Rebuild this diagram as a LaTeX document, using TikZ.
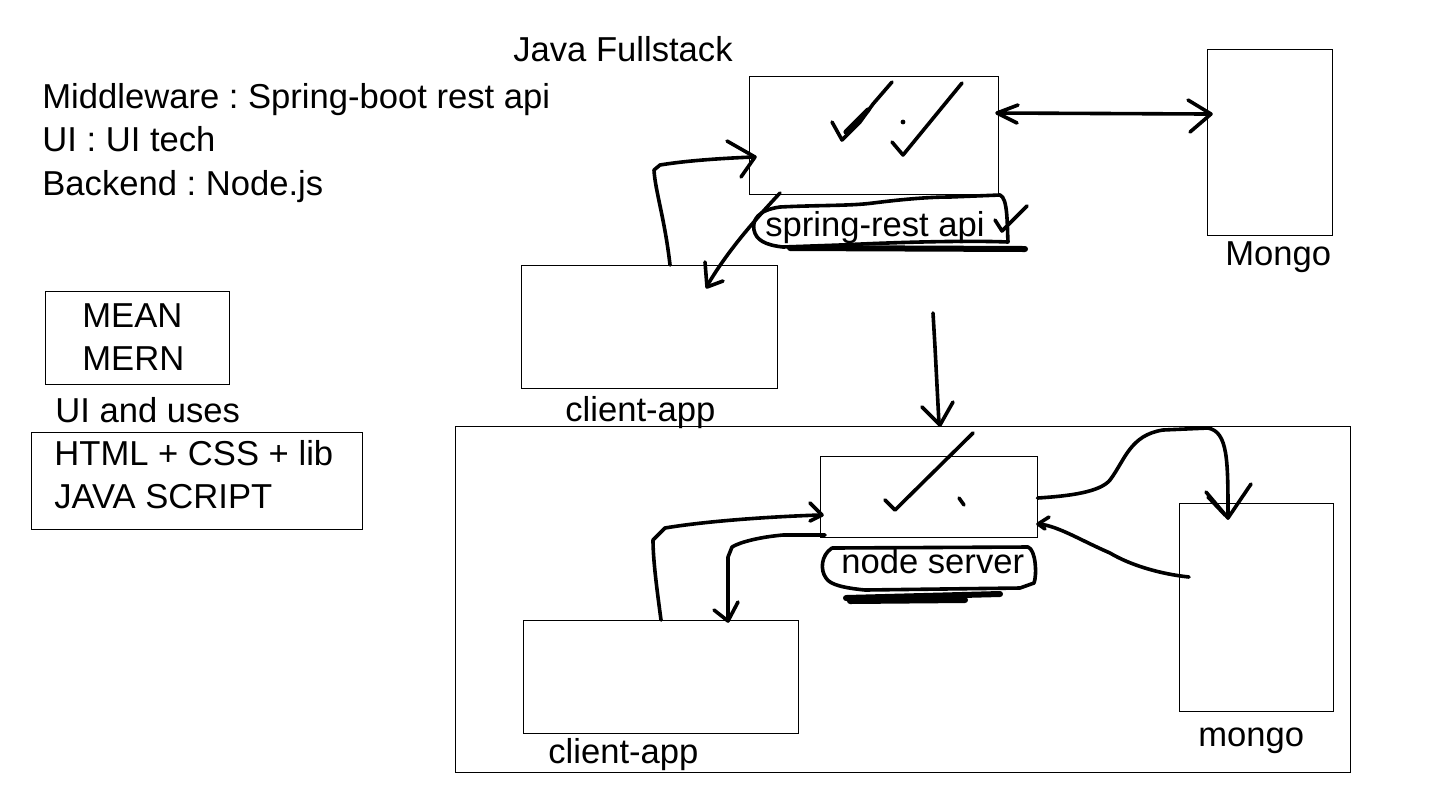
\documentclass[tikz,border=0pt]{standalone}
\usepackage{fontspec}
\setmainfont{Liberation Sans}
\frenchspacing
\begin{document}
\begin{tikzpicture}[x=0.5pt,y=-0.5pt,
  box/.style={draw=black, line width=0.5pt, inner sep=0pt, fill=none},
  lbl/.style={inner sep=0pt, anchor=base west, font=\fontsize{17.3}{20}\selectfont\frenchspacing},
  ink/.style={draw=black, line width=1.8pt, line cap=round, line join=round},
  thickink/.style={draw=black, line width=3pt, line cap=round, line join=round}]
\useasboundingbox[fill=white] (0,0) rectangle (1434,805);

% texts
\node[lbl] (title) at (513,61) {Java Fullstack};
\node[lbl] (mw) at (42,108) {Middleware : Spring-boot rest api};
\node[lbl] (ui) at (42,151) {UI : UI tech};
\node[lbl] (be) at (42,195) {Backend : Node.js};

% left boxes
\node[box, minimum width=92pt, minimum height=46.5pt] (meanbox) at (137,337.5) {};
\node[lbl] (mean) at (82,327) {MEAN};
\node[lbl] (mern) at (82,370) {MERN};
\node[lbl] (uses) at (55,422) {UI and uses};
\node[box, minimum width=165.5pt, minimum height=48.5pt] (htmlbox) at (196.5,480.5) {};
\node[lbl] (html) at (54,465) {HTML + CSS + lib};
\node[lbl] (js) at (54,508) {JAVA SCRIPT};

% top diagram
\node[box, minimum width=124.5pt, minimum height=59pt] (springbox) at (873.5,135) {};
\node[box, minimum width=62.5pt, minimum height=93pt] (mongoA) at (1269.5,142) {};
\node[lbl] (mongoAl) at (1225,265) {Mongo};
\node[box, minimum width=128pt, minimum height=61.5pt] (clientA) at (649,326.5) {};
\node[lbl] (clientAl) at (565,421) {client-app};
\node[lbl] (springl) at (765,236) {spring-rest api};

% bottom diagram
\node[box, minimum width=447.5pt, minimum height=173pt] (outer) at (902.5,599) {};
\node[box, minimum width=108.5pt, minimum height=40.5pt] (nodebox) at (928.5,496.5) {};
\node[lbl] (nodel) at (841,573) {node server};
\node[box, minimum width=137.5pt, minimum height=56.5pt] (clientB) at (660.5,676.5) {};
\node[lbl] (clientBl) at (548,763) {client-app};
\node[box, minimum width=77pt, minimum height=104pt] (mongoB) at (1256,607) {};
\node[lbl] (mongoBl) at (1198,746) {mongo};

% checks in spring box
\draw[ink] (832,122) -- (842,140) -- (860,122) -- (873,104) -- (892,82);
\draw[line width=2.6pt, line cap=round] (846,132) -- (868,110);
\draw[ink] (892,142) -- (903,155) -- (962,83);
\fill (903,122) circle (1.2pt);

% double arrow spring <-> Mongo
\draw[ink] (springbox.east |- 0,113) -- (mongoA.west |- 0,114);
\draw[ink] (1018,105) -- (997,113) -- (1017,123);
\draw[ink] (1188,100) -- (1211,114) -- (1190,132);

% client-app -> spring
\draw[ink] (670,265) .. controls (665,220) and (655,190) .. (654,170) -- (660,165) .. controls (690,160) and (730,158) .. (753,157);
\draw[ink] (727,141) -- (755,157) -- (741,177);

% spring -> client-app
\draw[ink] (780,193) .. controls (750,225) and (725,255) .. (707,286);
\draw[ink] (705,262) -- (707,287) -- (723,281);

% loop round spring-rest api
\draw[ink] (780,207) .. controls (820,205) and (850,206) .. (873,203)
  .. controls (905,199) and (930,197) .. (950,197) -- (1000,195)
  .. controls (1008,198) and (1007,225) .. (1008,242)
  .. controls (960,240) and (880,243) .. (840,245)
  -- (783,247) .. controls (765,245) and (756,240) .. (754,230)
  .. controls (752,220) and (758,210) .. (780,207);
\draw[thickink] (790,248) -- (1025,249);
\draw[ink] (995,220) -- (1002,231) -- (1027,206);

% down arrow
\draw[ink] (933,313) -- (935,347) -- (939,424);
\draw[ink] (922,407) -- (940,425) -- (953,402);

% check in node box
\draw[ink] (885,500) -- (895,510) -- (973,433);
\draw[ink] (959,498) -- (964,505);

% client-app B -> node box
\draw[ink] (661,620) .. controls (657,590) and (653,560) .. (653,540) -- (665,528) .. controls (700,522) and (760,517) .. (820,515);
\draw[ink] (810,503) -- (822,515) -- (810,521);

% node box -> client-app B
\draw[ink] (825,535) -- (783,535) .. controls (760,537) and (740,542) .. (732,547) -- (728,557) -- (728,620);
\draw[ink] (714,610) -- (728,621) -- (738,602);

% node box -> mongo B
\draw[ink] (nodebox.east |- 0,498) .. controls (1070,496) and (1100,492) .. (1110,480)
  .. controls (1125,460) and (1130,435) .. (1163,430)
  -- (1208,428) .. controls (1228,432) and (1228,460) .. (1228,518);
\draw[ink] (1206,492) -- (1228,518) -- (1251,484);
\draw[ink] (1208,497) -- (1225,515);

% mongo B -> node box
\draw[ink] (1189,577) .. controls (1160,574) and (1130,565) .. (1110,553)
  .. controls (1080,540) and (1060,527) .. (1040,524);
\draw[ink] (1049,517) -- (1038,524) -- (1045,529);

% loop round node server
\draw[ink] (832,548) -- (1028,547) .. controls (1036,550) and (1037,575) .. (1034,583)
  -- (1020,588) -- (865,590) .. controls (845,588) and (830,585) .. (826,578)
  .. controls (820,570) and (821,555) .. (832,548);
\draw[thickink] (846,598) -- (1000,594);
\draw[thickink] (850,601) -- (965,600);
\end{tikzpicture}
\end{document}
